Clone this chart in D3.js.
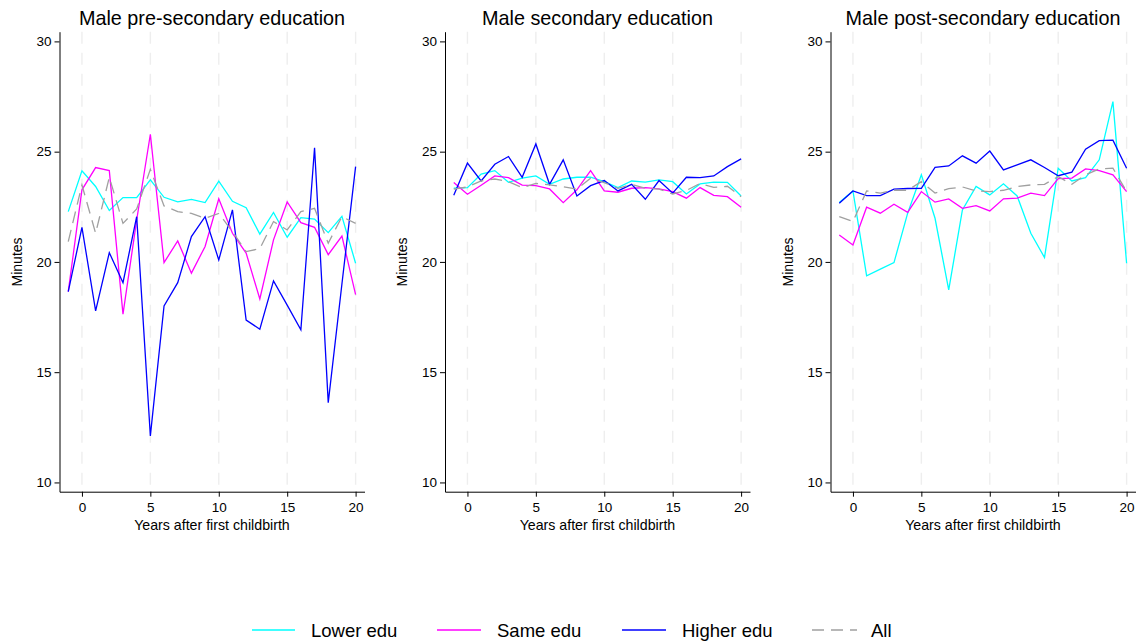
<!DOCTYPE html>
<html>
<head>
<meta charset="utf-8">
<script src="https://cdn.jsdelivr.net/npm/d3@7"></script>
<style>
  html, body { margin: 0; padding: 0; background: #fff; }
  svg { display: block; font-family: "Liberation Sans", Arial, Helvetica, sans-serif; }
</style>
</head>
<body>
<svg id="chart" width="1140" height="643"></svg>
<script>
// Years relative to first childbirth
const years = [-1, 0, 1, 2, 3, 4, 5, 6, 7, 8, 9, 10, 11, 12, 13, 14, 15, 16, 17, 18, 19, 20];

// Panel titles
const panelTitles = ["Male pre-secondary education", "Male secondary education", "Male post-secondary education"];

// Series names (legend)
const seriesNames = ["Lower edu", "Same edu", "Higher edu", "All"];

// Axis ticks
const yTicks = [10, 15, 20, 25, 30];
const xTicks = [0, 5, 10, 15, 20];

// Pre-secondary education (minutes)
const preLower  = [22.28, 24.13, 23.42, 22.33, 22.92, 22.92, 23.72, 22.93, 22.72, 22.84, 22.69, 23.66, 22.75, 22.46, 21.26, 22.24, 21.12, 22.01, 21.94, 21.33, 22.07, 19.94];
const preSame   = [18.65, 23.27, 24.28, 24.14, 17.63, 21.90, 25.79, 19.97, 20.95, 19.49, 20.70, 22.86, 21.30, 20.40, 18.32, 21.00, 22.72, 21.78, 21.57, 20.33, 21.17, 18.52];
const preHigher = [18.65, 21.57, 17.78, 20.42, 19.06, 22.05, 12.11, 18.00, 19.06, 21.15, 22.05, 20.09, 22.36, 17.36, 16.95, 19.14, 18.04, 16.92, 25.18, 13.62, 19.00, 24.32];
const preAll    = [20.92, 23.49, 21.30, 23.84, 21.75, 22.40, 24.20, 22.54, 22.28, 22.20, 21.98, 22.20, 21.37, 20.47, 20.60, 21.83, 21.45, 22.28, 22.43, 20.85, 22.05, 21.75];

// Secondary education (minutes)
const secLower  = [23.34, 23.37, 23.98, 24.14, 23.61, 23.80, 23.90, 23.52, 23.76, 23.84, 23.84, 23.64, 23.37, 23.67, 23.62, 23.72, 23.64, 23.08, 23.54, 23.62, 23.61, 22.99];
const secSame   = [23.60, 23.07, 23.48, 23.90, 23.82, 23.48, 23.46, 23.31, 22.69, 23.27, 24.14, 23.22, 23.16, 23.34, 23.37, 23.31, 23.19, 22.89, 23.37, 23.02, 22.96, 22.48];
const secHigher = [23.02, 24.48, 23.67, 24.43, 24.78, 23.84, 25.35, 23.52, 24.63, 22.99, 23.46, 23.69, 23.22, 23.52, 22.84, 23.69, 23.12, 23.84, 23.82, 23.90, 24.32, 24.67];
const secAll    = [23.30, 23.40, 23.67, 23.76, 23.64, 23.37, 23.56, 23.49, 23.41, 23.30, 23.80, 23.60, 23.34, 23.52, 23.34, 23.30, 23.08, 23.24, 23.56, 23.38, 23.43, 22.96];

// Post-secondary education (minutes)
const postLower  = [22.70, 23.22, 19.37, 19.67, 19.97, 22.21, 23.95, 21.98, 18.73, 22.36, 23.42, 23.04, 23.54, 22.99, 21.30, 20.20, 24.25, 23.67, 23.82, 24.63, 27.27, 19.94];
const postSame   = [21.22, 20.77, 22.48, 22.21, 22.62, 22.25, 23.19, 22.71, 22.86, 22.43, 22.55, 22.31, 22.86, 22.89, 23.12, 23.01, 23.78, 23.80, 24.22, 24.14, 23.95, 23.19];
const postHigher = [22.66, 23.22, 23.01, 23.01, 23.30, 23.33, 23.34, 24.29, 24.35, 24.81, 24.48, 25.03, 24.17, 24.40, 24.63, 24.28, 23.91, 24.07, 25.11, 25.50, 25.52, 24.25];
const postAll    = [22.05, 21.83, 23.22, 23.12, 23.25, 23.25, 23.64, 23.12, 23.32, 23.40, 23.22, 23.19, 23.25, 23.42, 23.49, 23.52, 23.87, 23.52, 23.95, 24.22, 24.25, 23.19];

const panels = [
  { title: panelTitles[0], series: [preLower, preSame, preHigher, preAll] },
  { title: panelTitles[1], series: [secLower, secSame, secHigher, secAll] },
  { title: panelTitles[2], series: [postLower, postSame, postHigher, postAll] }
];

const colors = ["#00ffff", "#ff00ff", "#0000ff", "#a0a0a0"];
const dashes = [null, null, null, "12,7"];

const svg = d3.select("#chart");
svg.append("rect").attr("width", 1140).attr("height", 643).attr("fill", "#fff");

const panelLeft = [59.5, 445, 830.5];
const plotW = 305;
const plotTop = 31.7, plotBottom = 491.7;

panels.forEach((p, i) => {
  const left = panelLeft[i];
  const x = d3.scaleLinear().domain([-1.64, 20.65]).range([left, left + plotW]);
  const y = d3.scaleLinear().domain([9.58, 30.44]).range([plotBottom, plotTop]);

  const g = svg.append("g");

  // vertical dashed grid at x ticks
  g.append("g").selectAll("line").data(xTicks).join("line")
    .attr("x1", d => x(d)).attr("x2", d => x(d))
    .attr("y1", plotTop).attr("y2", plotBottom)
    .attr("stroke", "#eeeeee").attr("stroke-width", 1.4)
    .attr("stroke-dasharray", "12,9");

  // series lines
  const line = d3.line().x((d, k) => x(years[k])).y(d => y(d));
  p.series.forEach((vals, s) => {
    g.append("path").datum(vals)
      .attr("d", line)
      .attr("fill", "none")
      .attr("stroke", colors[s])
      .attr("stroke-width", 1.3)
      .attr("stroke-linejoin", "miter")
      .attr("stroke-dasharray", dashes[s]);
  });

  // axes
  const yAxis = d3.axisLeft(y).tickValues(yTicks).tickSize(5).tickSizeOuter(0).tickPadding(3);
  const gy = g.append("g").attr("transform", `translate(${left},0)`).call(yAxis);
  const xAxis = d3.axisBottom(x).tickValues(xTicks).tickSize(5).tickSizeOuter(0).tickPadding(6);
  const gx = g.append("g").attr("transform", `translate(0,${plotBottom})`).call(xAxis);
  [gx, gy].forEach(a => {
    a.selectAll("path").attr("stroke", "#000").attr("stroke-width", 1);
    a.selectAll("line").attr("stroke", "#000");
    a.selectAll("text").attr("font-size", 13.5).attr("fill", "#000")
      .attr("font-family", "'Liberation Sans', Arial, sans-serif");
  });

  // title
  g.append("text")
    .attr("x", left + plotW / 2).attr("y", 25)
    .attr("text-anchor", "middle").attr("font-size", 19.8).attr("fill", "#000")
    .text(p.title);

  // axis titles
  g.append("text")
    .attr("x", x(9.5)).attr("y", 530)
    .attr("text-anchor", "middle").attr("font-size", 14.2).attr("fill", "#000")
    .text("Years after first childbirth");
  g.append("text")
    .attr("transform", `translate(${left - 38},${y(20)}) rotate(-90)`)
    .attr("text-anchor", "middle").attr("font-size", 14).attr("fill", "#000")
    .text("Minutes");
});

// legend
const legendItems = [
  { x0: 252, x1: 295, tx: 311 },
  { x0: 437, x1: 481, tx: 497 },
  { x0: 622, x1: 666, tx: 682 },
  { x0: 812, x1: 857, tx: 871 }
];
const lg = svg.append("g");
seriesNames.forEach((name, s) => {
  const it = legendItems[s];
  lg.append("line")
    .attr("x1", it.x0).attr("x2", it.x1).attr("y1", 630).attr("y2", 630)
    .attr("stroke", colors[s]).attr("stroke-width", 1.4)
    .attr("stroke-dasharray", dashes[s]);
  lg.append("text")
    .attr("x", it.tx).attr("y", 637)
    .attr("font-size", 18.5).attr("fill", "#000")
    .text(name);
});
</script>
</body>
</html>
